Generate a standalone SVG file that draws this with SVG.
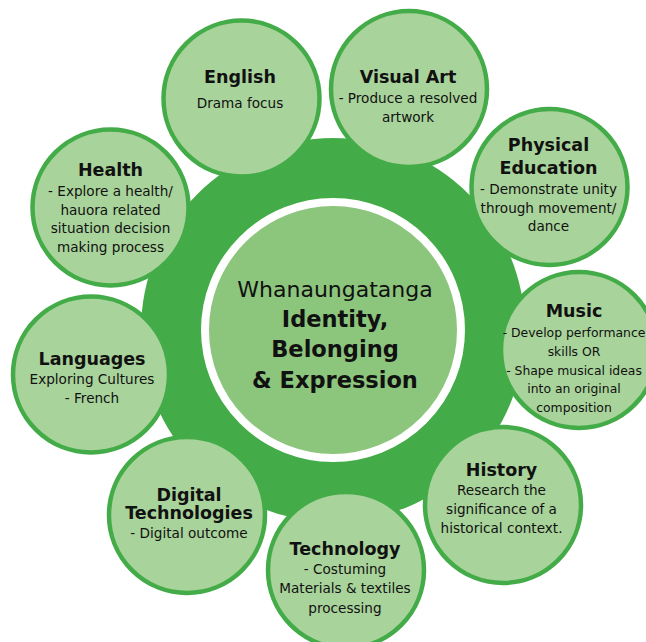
<svg xmlns="http://www.w3.org/2000/svg" width="646" height="642" viewBox="0 0 646 642">
<style>
.ring{fill:#43ac48}
.petal{fill:#a8d39a;stroke:#43ac48;stroke-width:4.5}
.core{fill:#8cc57c;stroke:#ffffff;stroke-width:8}
text{font-family:"DejaVu Sans","Verdana",sans-serif;fill:#111;text-anchor:middle}
.t{font-weight:bold;font-size:17.5px}
.b{font-size:13.6px}
.bm{font-size:12.4px}
.ct{font-size:22px}
.cb{font-weight:bold;font-size:22.5px}
</style>
<rect width="646" height="642" fill="#ffffff"/>
<g id="connectors">
<circle class="ring" cx="333" cy="330" r="192"/>
</g>
<g id="center">
<circle class="core" cx="333" cy="330" r="128"/>
<text class="ct" x="335" y="297">Whanaungatanga</text>
<text class="cb" x="335" y="327">Identity,</text>
<text class="cb" x="335" y="357">Belonging</text>
<text class="cb" x="335" y="388">&amp; Expression</text>
</g>
<g id="english">
<circle class="petal" cx="241.5" cy="98.5" r="78"/>
<text class="t" x="240" y="83">English</text>
<text class="b" x="240" y="108">Drama focus</text>
</g>
<g id="visual-art">
<circle class="petal" cx="409" cy="89" r="78"/>
<text class="t" x="408" y="83">Visual Art</text>
<text class="b" x="408" y="103">- Produce a resolved</text>
<text class="b" x="408" y="122">artwork</text>
</g>
<g id="health">
<circle class="petal" cx="110.5" cy="207.5" r="78"/>
<text class="t" x="110.5" y="176">Health</text>
<text class="b" x="110.5" y="196">- Explore a health/</text>
<text class="b" x="110.5" y="214.5">hauora related</text>
<text class="b" x="110.5" y="233">situation decision</text>
<text class="b" x="110.5" y="251.5">making process</text>
</g>
<g id="physical-education">
<circle class="petal" cx="549.5" cy="187" r="78"/>
<text class="t" x="548.5" y="151">Physical</text>
<text class="t" x="548.5" y="174">Education</text>
<text class="b" x="548.5" y="194">- Demonstrate unity</text>
<text class="b" x="548.5" y="213">through movement/</text>
<text class="b" x="548.5" y="231">dance</text>
</g>
<g id="music">
<circle class="petal" cx="579" cy="350" r="78"/>
<text class="t" x="574" y="317">Music</text>
<text class="bm" x="574" y="337">- Develop performance</text>
<text class="bm" x="574" y="356">skills OR</text>
<text class="bm" x="574" y="375">- Shape musical ideas</text>
<text class="bm" x="574" y="393">into an original</text>
<text class="bm" x="574" y="412">composition</text>
</g>
<g id="languages">
<circle class="petal" cx="91" cy="374.5" r="78"/>
<text class="t" x="92" y="365">Languages</text>
<text class="b" x="92" y="384">Exploring Cultures</text>
<text class="b" x="92" y="403">- French</text>
</g>
<g id="digital-technologies">
<circle class="petal" cx="187" cy="515" r="78"/>
<text class="t" x="189" y="500.5">Digital</text>
<text class="t" x="189" y="519">Technologies</text>
<text class="b" x="189" y="538">- Digital outcome</text>
</g>
<g id="history">
<circle class="petal" cx="503" cy="505" r="78"/>
<text class="t" x="501.5" y="476">History</text>
<text class="b" x="501.5" y="495">Research the</text>
<text class="b" x="501.5" y="514">significance of a</text>
<text class="b" x="501.5" y="533">historical context.</text>
</g>
<g id="technology">
<circle class="petal" cx="346" cy="570" r="78"/>
<text class="t" x="345" y="555">Technology</text>
<text class="b" x="345" y="574">- Costuming</text>
<text class="b" x="345" y="593">Materials &amp; textiles</text>
<text class="b" x="345" y="613">processing</text>
</g>
</svg>
